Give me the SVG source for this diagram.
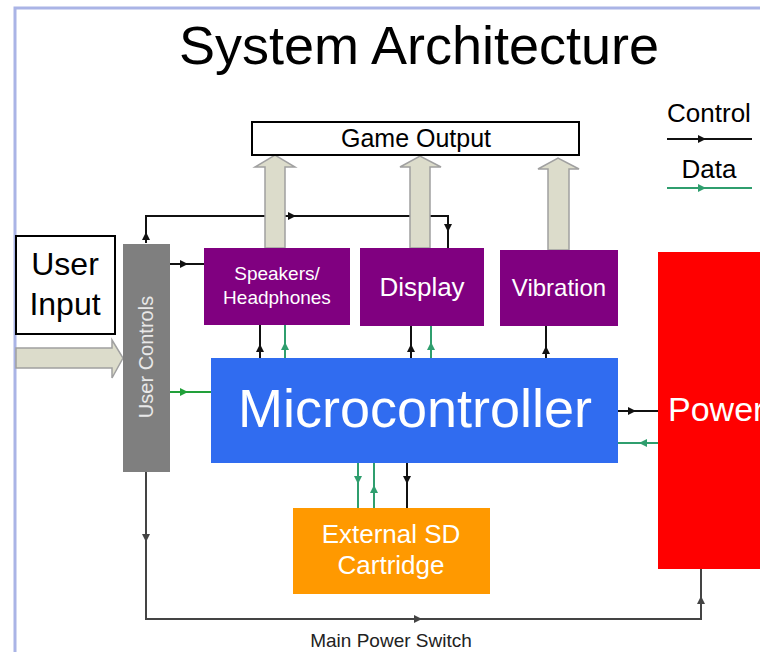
<svg xmlns="http://www.w3.org/2000/svg" xmlns:xlink="http://www.w3.org/1999/xlink" width="760" height="652" viewBox="0 0 760 652">
<style>
text{font-family:"Liberation Sans",Arial,sans-serif}
.w{fill:#fff}
.k{fill:#000}
.c{fill:none;stroke:#111;stroke-width:2}
.g{fill:none;stroke:#2f9e6e;stroke-width:2}
.g2{fill:none;stroke:#22a03a;stroke-width:2}
.p{fill:none;stroke:#444;stroke-width:2}
.ha{fill:#dcdccb;stroke:#a0a0a0;stroke-width:1.5}
.mid{text-anchor:middle}
</style>
<defs>
<path id="tri" d="M-4,-4 L4,0 L-4,4 Z"/>
</defs>
<rect width="760" height="652" fill="#fff"/>
<path d="M15,652 V8 H760" fill="none" stroke="#aab4e6" stroke-width="3"/>
<text id="title" x="419" y="64" font-size="54" class="mid k">System Architecture</text>

<g id="connectors">
<path class="c" d="M146,243 V216 H448 V248"/>
<use xlink:href="#tri" fill="#111" transform="translate(146,236) rotate(-90)"/>
<use xlink:href="#tri" fill="#111" transform="translate(292,216)"/>
<use xlink:href="#tri" fill="#111" transform="translate(448,228) rotate(90)"/>
<path class="c" d="M170,264 H204"/>
<use xlink:href="#tri" fill="#111" transform="translate(184,264)"/>
<path class="g2" d="M170,392 H211"/>
<use xlink:href="#tri" fill="#22a03a" transform="translate(184,392)"/>
<path class="c" d="M260,358 V325"/>
<use xlink:href="#tri" fill="#111" transform="translate(260,348) rotate(-90)"/>
<path class="g" d="M285,358 V325"/>
<use xlink:href="#tri" fill="#2f9e6e" transform="translate(285,346) rotate(-90)"/>
<path class="c" d="M411,358 V326"/>
<use xlink:href="#tri" fill="#111" transform="translate(411,348) rotate(-90)"/>
<path class="g" d="M431,358 V326"/>
<use xlink:href="#tri" fill="#2f9e6e" transform="translate(431,346) rotate(-90)"/>
<path class="c" d="M546,358 V326"/>
<use xlink:href="#tri" fill="#111" transform="translate(546,350) rotate(-90)"/>
<path class="c" d="M618,411 H658"/>
<use xlink:href="#tri" fill="#111" transform="translate(632,411)"/>
<path class="g" d="M658,443 H618"/>
<use xlink:href="#tri" fill="#2f9e6e" transform="translate(643,443) rotate(180)"/>
<path class="g" d="M358,463 V508"/>
<use xlink:href="#tri" fill="#2f9e6e" transform="translate(358,480) rotate(90)"/>
<path class="g" d="M374,508 V463"/>
<use xlink:href="#tri" fill="#2f9e6e" transform="translate(374,489) rotate(-90)"/>
<path class="c" d="M407,463 V508"/>
<use xlink:href="#tri" fill="#111" transform="translate(407,480) rotate(90)"/>
<path class="p" d="M146,472 V619 H701 V569"/>
<use xlink:href="#tri" fill="#444" transform="translate(146,538) rotate(90)"/>
<use xlink:href="#tri" fill="#444" transform="translate(418,619)"/>
<use xlink:href="#tri" fill="#444" transform="translate(701,600) rotate(-90)"/>
<polygon class="ha" points="265,248 265,167 255,167 275,155 295,167 285,167 285,248"/>
<polygon class="ha" points="410,248 410,167 400,167 420,156 441,167 430,167 430,248"/>
<polygon class="ha" points="548,250 548,169 538,169 558,158 579,169 569,169 569,250"/>
<polygon class="ha" points="16,348 112,348 112,340 123,358 112,378 112,368 16,368"/>
</g>

<g id="legend">
<text x="709" y="122" font-size="26" class="mid k">Control</text>
<path class="c" d="M667,139 H752"/>
<use xlink:href="#tri" fill="#111" transform="translate(702,139)"/>
<text x="709" y="178" font-size="26" class="mid k">Data</text>
<path class="g" d="M667,188 H752"/>
<use xlink:href="#tri" fill="#2f9e6e" transform="translate(702,188)"/>
</g>

<g id="game-output">
<rect x="252" y="122" width="327" height="33" fill="#fff" stroke="#000" stroke-width="2"/>
<text x="416" y="147" font-size="25" class="mid k">Game Output</text>
</g>

<g id="user-input">
<rect x="16" y="236" width="99" height="98" fill="#fff" stroke="#000" stroke-width="2"/>
<text x="65" y="275" font-size="32" class="mid k">User</text>
<text x="65" y="315" font-size="32" class="mid k">Input</text>
</g>

<g id="user-controls">
<rect x="123" y="244" width="47" height="228" fill="#7f7f7f"/>
<text transform="translate(153,357) rotate(-90)" font-size="20" class="mid" fill="#e8e8e8">User Controls</text>
</g>

<g id="speakers">
<rect x="204" y="248" width="146" height="77" fill="#800080"/>
<text x="277" y="280" font-size="19" class="mid w">Speakers/</text>
<text x="277" y="304" font-size="19" class="mid w">Headphones</text>
</g>

<g id="display">
<rect x="360" y="248" width="124" height="78" fill="#800080"/>
<text x="422" y="296" font-size="26" class="mid w">Display</text>
</g>

<g id="vibration">
<rect x="500" y="250" width="118" height="76" fill="#800080"/>
<text x="559" y="296" font-size="24" class="mid w">Vibration</text>
</g>

<g id="microcontroller">
<rect x="211" y="358" width="407" height="105" fill="#306cf0"/>
<text x="415" y="427" font-size="54" class="mid w">Microcontroller</text>
</g>

<g id="power">
<rect x="658" y="252" width="110" height="317" fill="#ff0000"/>
<text x="668" y="421" font-size="34" class="w">Power</text>
</g>

<g id="sd-cartridge">
<rect x="293" y="508" width="197" height="86" fill="#ff9900"/>
<text x="391" y="543" font-size="26" class="mid w">External SD</text>
<text x="391" y="574" font-size="26" class="mid w">Cartridge</text>
</g>

<text id="power-switch-label" x="391" y="647" font-size="19" class="mid" fill="#222">Main Power Switch</text>
</svg>
